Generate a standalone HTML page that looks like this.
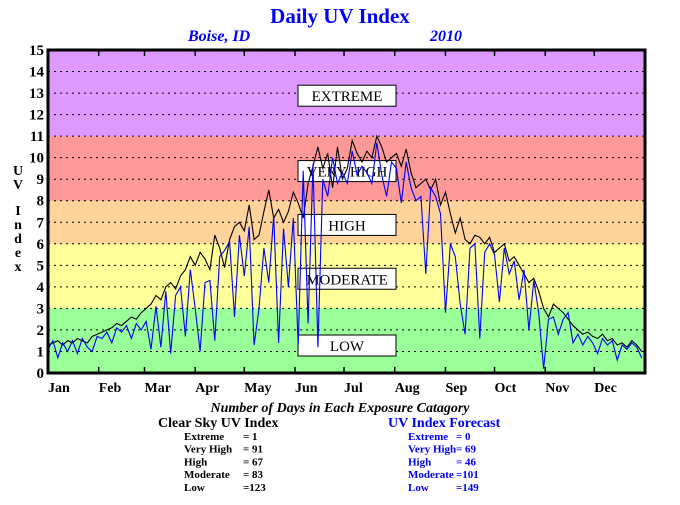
<!DOCTYPE html>
<html><head><meta charset="utf-8"><style>
body{margin:0;background:#fff;width:680px;height:500px;overflow:hidden}
svg text{font-family:"Liberation Serif",serif}
</style></head><body>
<svg id="c" width="680" height="500" xmlns="http://www.w3.org/2000/svg">
<text x="340" y="23" text-anchor="middle" font-size="21" font-weight="bold" fill="#0000ff">Daily UV Index</text>
<text x="188" y="41" font-size="16" font-weight="bold" font-style="italic" fill="#0000ff">Boise, ID</text>
<text x="430" y="41" font-size="16" font-weight="bold" font-style="italic" fill="#0000ff">2010</text>
<g id="bands"></g><g id="grid"></g><g id="labels"></g><g id="series"></g><g id="axes"></g>
<text font-size="14" font-weight="bold" text-anchor="middle"><tspan x="18" y="175">U</tspan><tspan x="18" y="189">V</tspan><tspan x="18" y="215">I</tspan><tspan x="18" y="229">n</tspan><tspan x="18" y="243">d</tspan><tspan x="18" y="257">e</tspan><tspan x="18" y="271">x</tspan></text>
<text x="340" y="412" text-anchor="middle" font-size="14" font-style="italic" font-weight="bold">Number of Days in Each Exposure Catagory</text>
<text x="158" y="427" font-size="14" font-weight="bold">Clear Sky UV Index</text>
<text x="388" y="427" font-size="14" font-weight="bold" fill="#0000ff">UV Index Forecast</text>
<g id="stats" font-size="11" font-weight="bold"></g>
</svg>
<script>
const months=["Jan","Feb","Mar","Apr","May","Jun","Jul","Aug","Sep","Oct","Nov","Dec"];
const monthStart=[0,31,59,90,120,151,181,212,243,273,304,334];
const yTicks=[0,1,2,3,4,5,6,7,8,9,10,11,12,13,14,15];
const bandNames=["LOW","MODERATE","HIGH","VERY HIGH","EXTREME"];
const bandLo=[0,3,6,8,11];
const bandHi=[3,6,8,11,15];
const bandLabelY=[1.3,4.4,6.9,9.4,12.9];
const bandColors=["#99ff99","#ffff99","#ffd399","#ff9999","#dd99ff"];
const sampleStep=3;
const clearSky=[1.3,1.4,1.5,1.3,1.5,1.4,1.6,1.5,1.4,1.7,1.8,
1.9,2.0,2.1,2.3,2.2,2.4,2.6,2.5,2.8,
3.0,3.2,3.6,3.4,4.0,4.2,3.9,4.5,4.8,5.4,
5.0,5.6,5.3,4.8,6.4,5.8,4.9,6.2,6.8,7.0,
6.6,7.8,6.2,6.4,7.5,8.5,7.2,7.6,7.0,7.5,
8.4,7.9,7.2,8.8,9.6,10.5,9.5,10.2,8.6,10.5,
9.0,9.5,10.8,10.2,9.8,10.3,10.0,11.0,10.5,9.8,
10.0,10.2,9.6,10.4,9.3,8.6,8.8,9.0,8.5,9.0,
7.8,8.4,7.4,6.5,7.2,6.2,6.0,6.4,6.3,6.0,
6.3,5.6,5.8,6.0,5.2,5.4,5.0,4.6,4.2,4.4,
3.8,3.0,2.6,3.2,3.0,2.8,2.5,2.2,2.0,1.8,
1.9,1.7,1.6,1.8,1.5,1.6,1.3,1.4,1.2,1.5,1.3,1.0];
const forecast=[1.1,1.5,0.7,1.4,1.0,1.5,0.9,1.6,1.2,1.0,1.7,
1.6,1.9,1.4,2.1,1.9,2.2,1.6,2.3,2.0,
2.4,1.1,3.1,1.2,3.8,0.9,3.6,4.0,1.7,4.8,
3.0,1.0,4.2,4.3,1.5,5.4,5.7,6.1,2.6,6.4,
4.5,6.8,1.3,3.0,5.8,4.2,7.3,1.4,6.7,4.0,
7.2,1.3,9.4,2.3,9.7,1.2,9.0,8.2,10.0,8.8,
9.3,8.8,10.3,9.2,9.6,9.3,8.8,10.7,9.2,8.2,
9.8,9.5,7.9,9.8,8.6,8.0,8.2,4.6,8.6,8.2,
7.4,2.8,6.0,5.4,3.2,1.8,5.8,6.0,1.6,5.6,
6.0,5.5,3.3,5.8,4.6,5.2,3.4,4.8,2.0,4.3,
2.8,0.2,2.5,2.6,1.8,2.5,2.8,1.4,1.8,1.3,
1.7,1.4,0.9,1.6,1.3,1.5,0.6,1.3,1.1,1.4,1.2,0.7];
const statNames=["Extreme","Very High","High","Moderate","Low"];
const clearCounts=["   1"," 91"," 67"," 83","123"];
const forecastCounts=["   0"," 69"," 46","101","149"];

const NS="http://www.w3.org/2000/svg";
const L=48,R=645,T=50,B=373,DAYS=365;
const xs=d=>L+(R-L)*d/DAYS;
const ys=v=>B-(B-T)*v/15;
function mk(tag,attrs,parent){const e=document.createElementNS(NS,tag);for(const k in attrs)e.setAttribute(k,attrs[k]);parent.appendChild(e);return e;}
const gb=document.getElementById('bands'),gg=document.getElementById('grid'),gl=document.getElementById('labels'),gs=document.getElementById('series'),ga=document.getElementById('axes'),gst=document.getElementById('stats');
bandLo.forEach((lo,i)=>{
 const r=mk('rect',{x:L,y:ys(bandHi[i]),width:R-L,height:ys(lo)-ys(bandHi[i]),fill:bandColors[i]},gb);
 
 
});
yTicks.forEach(v=>{
 if(v>0&&v<15){const l=mk('line',{x1:L,x2:R,y1:ys(v),y2:ys(v),stroke:'#000','stroke-dasharray':'2,4'},gg);
 
 }
 const t=mk('text',{x:L-4,y:ys(v)+5,'text-anchor':'end','font-size':15,'font-weight':'bold'},ga);
 t.textContent=v;
 
 
});
bandNames.forEach((n,i)=>{
 const cy=ys(bandLabelY[i]);
 const r=mk('rect',{x:298,y:cy-10,width:98,height:21,fill:'#fff',stroke:'#000'},gl);
 
 
 const t=mk('text',{x:347,y:cy+6,'text-anchor':'middle','font-size':15},gl);
 t.textContent=n;
 
 
});
function line(arr,color,name){
 const pts=arr.map((v,i)=>xs(i*sampleStep).toFixed(1)+','+ys(v).toFixed(1)).join(' ');
 const p=mk('polyline',{points:pts,fill:'none',stroke:color,'stroke-width':1.1},gs);
 
 
}
line(clearSky,'#000','clear-sky-line');
line(forecast,'#0000ff','forecast-line');
const fr=mk('rect',{x:L,y:T,width:R-L,height:B-T,fill:'none',stroke:'#000','stroke-width':3},ga);


months.forEach((m,i)=>{
 const x=xs(monthStart[i]);
 mk('line',{x1:x,x2:x,y1:B,y2:B-6,stroke:'#000','stroke-width':1.5},ga);
 mk('line',{x1:x,x2:x,y1:T,y2:T+6,stroke:'#000','stroke-width':1.5},ga);
 const t=mk('text',{x:x,y:392,'font-size':14,'font-weight':'bold','text-anchor':'start'},ga);
 t.textContent=m;
 
 
});
statNames.forEach((n,i)=>{
 const y=440+i*12.7;
 const a=mk('text',{x:184,y:y},gst);a.textContent=n;
 
 
 const b=mk('text',{x:243,y:y,'xml:space':'preserve'},gst);b.textContent='='+clearCounts[i];
 
 
 const c=mk('text',{x:408,y:y,fill:'#0000ff'},gst);c.textContent=n;
 
 
 const d=mk('text',{x:456,y:y,fill:'#0000ff','xml:space':'preserve'},gst);d.textContent='='+forecastCounts[i];
 
 
});
</script>
</body></html>
